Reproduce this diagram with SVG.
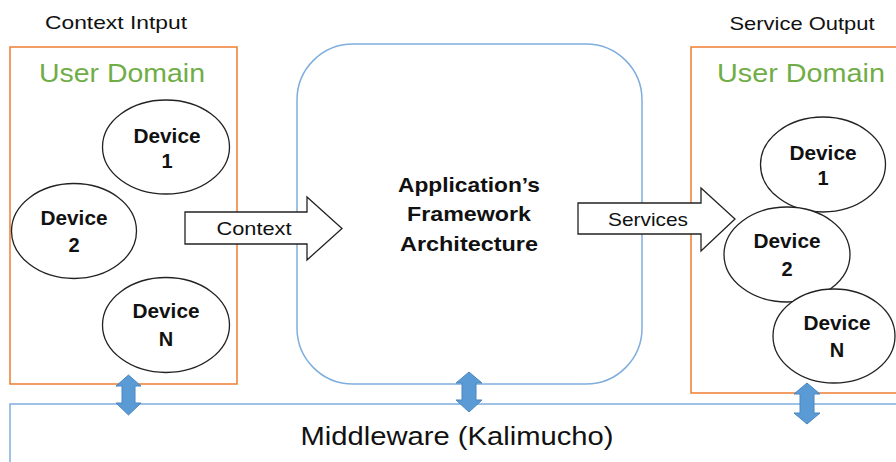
<svg xmlns="http://www.w3.org/2000/svg" width="896" height="462" viewBox="0 0 896 462">
<style>
  .t { font-family: "Liberation Sans", Arial, sans-serif; fill: #111; }
  .dom { fill: none; stroke: #ED7D31; stroke-width: 1.5; }
  .dtitle { font-family: "Liberation Sans", Arial, sans-serif; font-size: 25px; fill: #70AD47; text-anchor: middle; }
  .dev ellipse { fill: #fff; stroke: #222; stroke-width: 1.3; }
  .dev text { font-family: "Liberation Sans", Arial, sans-serif; font-weight: bold; font-size: 20px; fill: #111; text-anchor: middle; }
  .blk { fill: #fff; stroke: #222; stroke-width: 1.3; }
  .dbl { fill: #5B9BD5; stroke: #4A86C0; stroke-width: 1; }
  .bline { fill: none; stroke: #7FAEDD; stroke-width: 1.5; }
</style>

<!-- Middleware -->
<g id="middleware">
  <rect x="10" y="404" width="900" height="80" class="bline"/>
  <text class="t" x="457" y="445" font-size="25" text-anchor="middle" textLength="313" lengthAdjust="spacingAndGlyphs">Middleware (Kalimucho)</text>
</g>

<!-- Left user domain -->
<g id="input-domain">
  <text class="t" x="116" y="29" font-size="19" text-anchor="middle" textLength="142" lengthAdjust="spacingAndGlyphs">Context Intput</text>
  <rect x="10" y="47" width="227" height="337" class="dom"/>
  <text class="dtitle" x="122" y="82" textLength="166" lengthAdjust="spacingAndGlyphs">User Domain</text>
</g>
<g id="in-device-1" class="dev">
  <ellipse cx="166" cy="147" rx="63.5" ry="47"/>
  <text x="167" y="143" textLength="67" lengthAdjust="spacingAndGlyphs">Device</text>
  <text x="167" y="168">1</text>
</g>
<g id="in-device-2" class="dev">
  <ellipse cx="74" cy="231" rx="62.5" ry="47.5"/>
  <text x="74" y="225" textLength="67" lengthAdjust="spacingAndGlyphs">Device</text>
  <text x="74" y="252">2</text>
</g>
<g id="in-device-n" class="dev">
  <ellipse cx="166" cy="325" rx="63.5" ry="47.5"/>
  <text x="166" y="318" textLength="67" lengthAdjust="spacingAndGlyphs">Device</text>
  <text x="166" y="346">N</text>
</g>

<!-- Framework -->
<g id="framework">
  <rect x="297" y="44" width="345" height="340" rx="56" ry="56" class="bline"/>
  <text class="t" x="469" y="192" font-size="21" font-weight="bold" text-anchor="middle" textLength="142" lengthAdjust="spacingAndGlyphs">Application’s</text>
  <text class="t" x="469" y="221" font-size="21" font-weight="bold" text-anchor="middle" textLength="124" lengthAdjust="spacingAndGlyphs">Framework</text>
  <text class="t" x="469" y="251" font-size="21" font-weight="bold" text-anchor="middle" textLength="138" lengthAdjust="spacingAndGlyphs">Architecture</text>
</g>

<!-- Right user domain -->
<g id="output-domain">
  <text class="t" x="802" y="30" font-size="19" text-anchor="middle" textLength="145" lengthAdjust="spacingAndGlyphs">Service Output</text>
  <rect x="691" y="47" width="230" height="346" class="dom"/>
  <text class="dtitle" x="801" y="82" textLength="168" lengthAdjust="spacingAndGlyphs">User Domain</text>
</g>
<g id="out-device-1" class="dev">
  <ellipse cx="823" cy="164.5" rx="62.5" ry="47.5"/>
  <text x="823" y="160" textLength="67" lengthAdjust="spacingAndGlyphs">Device</text>
  <text x="823" y="185">1</text>
</g>
<g id="out-device-2" class="dev">
  <ellipse cx="787" cy="254.5" rx="63" ry="47.5"/>
  <text x="787" y="248" textLength="67" lengthAdjust="spacingAndGlyphs">Device</text>
  <text x="787" y="276">2</text>
</g>
<g id="out-device-n" class="dev">
  <ellipse cx="834" cy="336" rx="61" ry="47"/>
  <text x="837" y="330" textLength="67" lengthAdjust="spacingAndGlyphs">Device</text>
  <text x="837" y="357">N</text>
</g>

<!-- Connectors -->
<g id="connectors">
  <g id="context-arrow">
    <polygon class="blk" points="185,212 307,212 307,197 342,228.5 307,260 307,244 185,244"/>
    <text class="t" x="254" y="235" font-size="19" text-anchor="middle" textLength="75" lengthAdjust="spacingAndGlyphs">Context</text>
  </g>
  <g id="services-arrow">
    <polygon class="blk" points="578,203 701,203 701,188 735,219 701,251 701,234 578,234"/>
    <text class="t" x="648" y="226" font-size="19" text-anchor="middle" textLength="80" lengthAdjust="spacingAndGlyphs">Services</text>
  </g>
  <polygon id="bi-left" class="dbl" points="128.5,375 141,386 135,386 135,403 141,403 128.5,415 116,403 122,403 122,386 116,386"/>
  <polygon id="bi-mid" class="dbl" points="469,372 482,383 476,383 476,400 482,400 469,412 456,400 462,400 462,383 456,383"/>
  <polygon id="bi-right" class="dbl" points="807,383 820,394 814,394 814,413 820,413 807,424 794,413 800,413 800,394 794,394"/>
</g>
</svg>
